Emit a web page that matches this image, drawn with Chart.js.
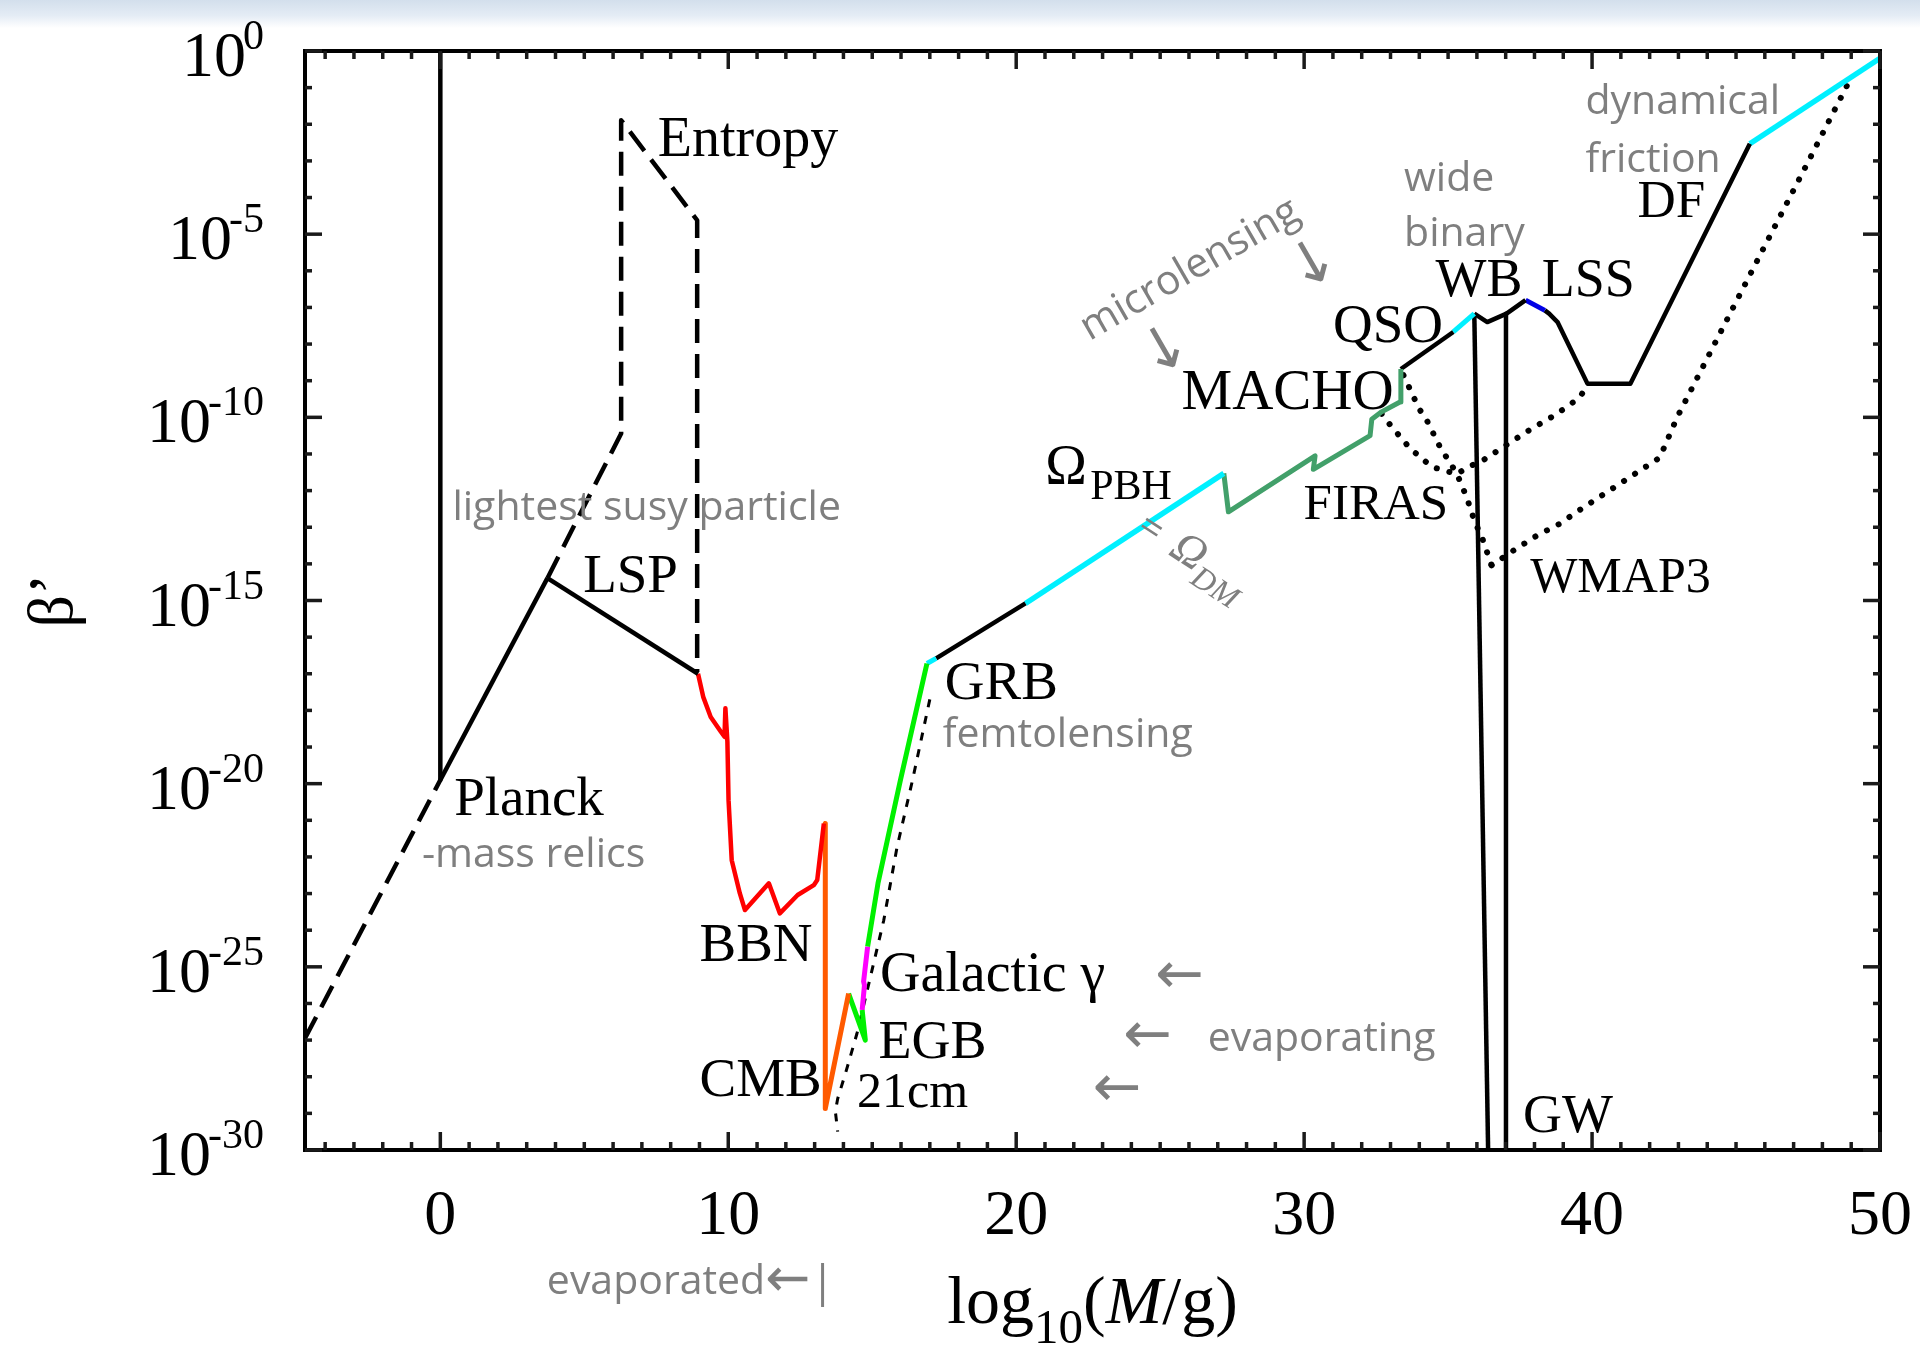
<!DOCTYPE html>
<html><head><meta charset="utf-8">
<script src="https://cdn.jsdelivr.net/npm/chart.js@4.4.1/dist/chart.umd.min.js"></script>
<style>
html,body{margin:0;padding:0;background:#fff;width:1920px;height:1355px;overflow:hidden;}
#band{position:absolute;left:0;top:0;width:1920px;height:28px;background:linear-gradient(#d3dfec,#e4ecf5 55%,#fff);}
#wrap{position:absolute;left:0;top:0;width:1920px;height:1355px;}
</style></head><body>
<div id="band"></div>
<div id="wrap"><canvas id="c" width="1920" height="1355"></canvas></div>
<script>
// ---------- axes ----------
const X_MIN = -4.7, X_MAX = 50, Y_MIN = -30, Y_MAX = 0;   // y = log10(beta')
const xTickValues = [0, 10, 20, 30, 40, 50];
const xTickLabels = ['0', '10', '20', '30', '40', '50'];
const yTickValues = [0, -5, -10, -15, -20, -25, -30];
const yTickExponents = ['0', '-5', '-10', '-15', '-20', '-25', '-30'];

// ---------- curves (x = log10(M/g), y = log10 beta') ----------
const planckVertX = [0, 0];
const planckVertY = [0, -19.9];
const planckDashX = [-4.7, 0];
const planckDashY = [-26.95, -19.9];
const planckLspX = [0, 3.72];
const planckLspY = [-19.9, -14.39];
const lspX = [3.72, 8.95];
const lspY = [-14.39, -17.0];
const entropyX = [3.72, 6.28, 6.28, 8.92, 8.92];
const entropyY = [-14.39, -10.44, -1.89, -4.62, -16.95];
const bbnX = [8.95, 9.13, 9.39, 9.75, 9.87, 9.9, 9.97, 10.01, 10.12, 10.40, 10.58, 11.41, 11.79, 12.41, 12.97, 13.09, 13.32];
const bbnY = [-17.0, -17.63, -18.18, -18.59, -18.72, -17.94, -18.86, -20.45, -22.09, -22.99, -23.45, -22.72, -23.54, -23.04, -22.77, -22.63, -21.09];
const cmbX = [13.32, 13.37, 13.37, 14.18];
const cmbY = [-21.09, -21.09, -28.87, -25.73];
const egbX = [14.18, 14.76, 14.65];
const egbY = [-25.73, -27.0, -26.18];
const galX = [14.65, 14.73, 14.70, 14.84];
const galY = [-26.18, -25.5, -25.4, -24.45];
const femtoX = [14.84, 15.2, 15.98, 16.9];
const femtoY = [-24.45, -22.72, -19.9, -16.72];
const grbCyanX = [16.9, 17.22];
const grbCyanY = [-16.72, -16.58];
const grbX = [17.22, 20.32];
const grbY = [-16.58, -15.08];
const omegaX = [20.32, 27.21];
const omegaY = [-15.08, -11.53];
const firasX = [27.21, 27.37, 30.38, 30.32, 32.29, 32.35, 32.69, 33.33, 33.36];
const firasY = [-11.53, -12.58, -11.05, -11.42, -10.5, -10.05, -9.85, -9.58, -8.68];
const qsoX = [33.36, 35.18];
const qsoY = [-8.68, -7.67];
const wbCyanX = [35.18, 35.91];
const wbCyanY = [-7.67, -7.17];
const gwLeftX = [35.91, 36.39];
const gwLeftY = [-7.17, -30];
const wbX = [35.91, 36.36, 37.03, 37.69];
const wbY = [-7.17, -7.4, -7.17, -6.8];
const gwRightX = [37.01, 37.01];
const gwRightY = [-7.17, -30];
const lssBlueX = [37.69, 38.36];
const lssBlueY = [-6.8, -7.08];
const lssX = [38.36, 38.51, 38.8, 39.84, 41.33, 45.48];
const lssY = [-7.08, -7.17, -7.4, -9.08, -9.08, -2.53];
const dfCyanX = [45.48, 50];
const dfCyanY = [-2.53, -0.2];
// dotted (WMAP3 / FIRAS) curves
const dotAX = [33.45, 33.99, 34.26, 34.72, 35.3, 35.64, 35.93, 36.17, 36.51];
const dotAY = [-8.85, -9.76, -10.08, -10.81, -11.53, -12.17, -12.86, -13.26, -14.04];
const dotBX = [32.69, 33.04, 33.39, 33.68, 34.09, 34.43, 34.95, 35.3, 35.71, 36.22, 37.09, 37.9, 38.71, 39.52, 39.88];
const dotBY = [-9.9, -10.26, -10.58, -10.85, -11.12, -11.35, -11.47, -11.55, -11.35, -11.17, -10.72, -10.31, -9.94, -9.49, -9.12];
const dotCX = [36.51, 37.28, 38.1, 38.89, 39.47, 42.35, 42.96, 44.44, 45.92, 47.41, 48.85];
const dotCY = [-14.04, -13.63, -13.22, -12.9, -12.58, -11.1, -9.99, -7.71, -5.44, -3.17, -0.95];
const femtoDotX = [17.0, 16.4, 15.86, 15.4, 14.9, 14.47, 14.07, 13.8, 13.72, 13.8];
const femtoDotY = [-17.7, -19.9, -21.74, -23.73, -25.4, -26.82, -27.91, -28.6, -28.95, -29.5];

// ---------- text labels ----------
const serifLabels = [
  ['Entropy', 7.55, -2.87, 56], ['LSP', 4.96, -14.77, 55], ['Planck', 0.48, -20.86, 55],
  ['BBN', 9.0, -24.85, 55], ['CMB', 9.0, -28.53, 55], ['Galactic \u03b3', 15.27, -25.66, 56],
  ['EGB', 15.22, -27.5, 54], ['21cm', 14.47, -28.82, 50], ['GRB', 17.52, -17.69, 55],
  ['FIRAS', 29.98, -12.77, 51], ['MACHO', 25.74, -9.78, 57], ['QSO', 31.0, -7.93, 55],
  ['WB', 34.56, -6.68, 54], ['LSS', 38.25, -6.68, 54], ['DF', 41.58, -4.53, 53],
  ['WMAP3', 37.85, -14.76, 50], ['GW', 37.6, -29.51, 54]
];
const greyLabels = [
  ['lightest susy particle', 0.42, -12.8], ['-mass relics', -0.64, -22.27],
  ['femtolensing', 17.45, -19.0], ['wide', 33.47, -3.82], ['binary', 33.47, -5.33],
  ['dynamical', 39.77, -1.71], ['friction', 39.77, -3.3], ['evaporating', 26.65, -27.29]
];
const leftArrows = [[25.67, -25.29], [24.56, -26.93], [23.5, -28.4]];
const downArrows = [[25.2, -8.24], [30.34, -5.9]];

// ---------- styles ----------
const C_BLACK = '#000000', C_RED = '#ff0000', C_ORANGE = '#ff5a00', C_GREEN = '#00f000',
      C_MAGENTA = '#ff00ff', C_CYAN = '#00f0ff', C_SEA = '#42a06a', C_BLUE = '#0000e6';
const GREY = '#7f7f7f';
const SERIF = '"Liberation Serif", "Times New Roman", serif';
const SANS = '"Open Sans", "DejaVu Sans", sans-serif';
const ARROWF = '"DejaVu Sans", sans-serif';

function series(xs, ys, color, extra) {
  return Object.assign({
    data: xs.map((v, i) => ({x: v, y: ys[i]})),
    showLine: true, pointRadius: 0, pointHoverRadius: 0, borderColor: color,
    backgroundColor: color, borderWidth: 4.5, fill: false, tension: 0,
    borderJoinStyle: 'round', borderCapStyle: 'butt'
  }, extra || {});
}
const DASH = {borderDash: [24, 11]};
const DOT = {borderDash: [0.1, 13], borderCapStyle: 'round', borderWidth: 6};

const datasets = [
  series(planckVertX, planckVertY, C_BLACK),
  series(planckDashX, planckDashY, C_BLACK, DASH),
  series(planckLspX, planckLspY, C_BLACK),
  series(lspX, lspY, C_BLACK),
  series(entropyX, entropyY, C_BLACK, DASH),
  series(bbnX, bbnY, C_RED, {borderWidth: 4.5}),
  series(cmbX, cmbY, C_ORANGE, {borderWidth: 5}),
  series(egbX, egbY, C_GREEN, {borderWidth: 5}),
  series(galX, galY, C_MAGENTA, {borderWidth: 5}),
  series(femtoX, femtoY, C_GREEN, {borderWidth: 5}),
  series(grbCyanX, grbCyanY, C_CYAN, {borderWidth: 5}),
  series(grbX, grbY, C_BLACK),
  series(omegaX, omegaY, C_CYAN, {borderWidth: 5.5}),
  series(firasX, firasY, C_SEA, {borderWidth: 5}),
  series(qsoX, qsoY, C_BLACK),
  series(wbCyanX, wbCyanY, C_CYAN, {borderWidth: 5}),
  series(gwLeftX, gwLeftY, C_BLACK),
  series(wbX, wbY, C_BLACK),
  series(gwRightX, gwRightY, C_BLACK),
  series(lssBlueX, lssBlueY, C_BLUE, {borderWidth: 5}),
  series(lssX, lssY, C_BLACK),
  series(dfCyanX, dfCyanY, C_CYAN, {borderWidth: 5.5}),
  series(dotAX, dotAY, C_BLACK, DOT),
  series(dotBX, dotBY, C_BLACK, DOT),
  series(dotCX, dotCY, C_BLACK, DOT),
  series(femtoDotX, femtoDotY, C_BLACK, {borderDash: [8, 9], borderWidth: 3})
];

const deco = {
  id: 'deco',
  afterDraw(chart) {
    const ctx = chart.ctx, a = chart.chartArea, sx = chart.scales.x, sy = chart.scales.y;
    const px = v => sx.getPixelForValue(v), py = v => sy.getPixelForValue(v);
    ctx.save();
    // frame
    ctx.strokeStyle = '#000'; ctx.lineWidth = 4;
    ctx.strokeRect(a.left, a.top, a.right - a.left, a.bottom - a.top);
    // ticks (inward, all four sides)
    ctx.lineWidth = 3.5; ctx.strokeStyle = '#1a1a1a';
    const seg = (x1, y1, x2, y2) => { ctx.beginPath(); ctx.moveTo(x1, y1); ctx.lineTo(x2, y2); ctx.stroke(); };
    for (let v = Math.ceil(sx.min); v <= sx.max; v++) {
      const p = px(v), L = (v % 10 === 0) ? 18 : 8;
      seg(p, a.bottom, p, a.bottom - L); seg(p, a.top, p, a.top + L);
    }
    for (let v = sy.min; v <= sy.max; v++) {
      const p = py(v), L = (v % 5 === 0) ? 17 : 7;
      seg(a.left, p, a.left + L, p); seg(a.right, p, a.right - L, p);
    }
    ctx.fillStyle = '#000';
    // x tick labels
    ctx.font = '64px ' + SERIF; ctx.textAlign = 'center'; ctx.textBaseline = 'alphabetic';
    xTickValues.forEach((v, i) => ctx.fillText(xTickLabels[i], px(v), a.bottom + 84));
    // y tick labels 10^n
    const right = a.left - 41;
    yTickValues.forEach((v, i) => {
      const p = py(v);
      ctx.font = '42px ' + SERIF; ctx.textAlign = 'left';
      const we = ctx.measureText(yTickExponents[i]).width;
      ctx.fillText(yTickExponents[i], right - we, p - 2);
      ctx.font = '64px ' + SERIF; ctx.textAlign = 'right';
      ctx.fillText('10', right - we + 3, p + 25);
    });
    // x axis title: log10(M/g)
    {
      const parts = [['log', '68px ' + SERIF, 0], ['10', '49px ' + SERIF, 20], ['(', '68px ' + SERIF, 0],
                     ['M', 'italic 68px ' + SERIF, 0], ['/g)', '68px ' + SERIF, 0]];
      let tot = 0;
      parts.forEach(pp => { ctx.font = pp[1]; tot += ctx.measureText(pp[0]).width; });
      let xx = (a.left + a.right) / 2 - tot / 2;
      const base = a.bottom + 173;
      ctx.textAlign = 'left';
      parts.forEach(pp => { ctx.font = pp[1]; ctx.fillText(pp[0], xx, base + pp[2]); xx += ctx.measureText(pp[0]).width; });
    }
    // y axis title
    ctx.save();
    ctx.translate(55, (a.top + a.bottom) / 2); ctx.rotate(-Math.PI / 2);
    ctx.font = '64px ' + SERIF; ctx.textAlign = 'center'; ctx.textBaseline = 'middle';
    ctx.fillText('\u03b2\u2019', 0, 0);
    ctx.restore();
    // serif labels
    ctx.textAlign = 'left'; ctx.textBaseline = 'alphabetic';
    serifLabels.forEach(l => { ctx.font = l[3] + 'px ' + SERIF; ctx.fillText(l[0], px(l[1]), py(l[2])); });
    // Omega_PBH
    ctx.font = '56px ' + SERIF; ctx.fillText('\u03a9', px(21.01), py(-11.81));
    ctx.font = '42px ' + SERIF; ctx.fillText('PBH', px(22.57), py(-12.24));
    // grey annotations
    ctx.fillStyle = GREY;
    ctx.font = '41px ' + SANS;
    greyLabels.forEach(l => ctx.fillText(l[0], px(l[1]), py(l[2])));
    // evaporated<-|
    {
      let xx = px(3.7); const yy = py(-33.93);
      ctx.font = '41px ' + SANS; ctx.fillText('evaporated', xx, yy);
      xx += ctx.measureText('evaporated').width;
      ctx.font = '54px ' + ARROWF; ctx.fillText('\u2190', xx, yy + 2);
      xx += ctx.measureText('\u2190').width;
      ctx.font = '44px ' + SANS; ctx.fillText('|', xx, yy + 2);
    }
    ctx.textAlign = 'center'; ctx.textBaseline = 'middle';
    ctx.font = '58px ' + ARROWF;
    leftArrows.forEach(l => ctx.fillText('\u2190', px(l[0]), py(l[1])));
    ctx.font = '60px ' + ARROWF;
    downArrows.forEach(l => {
      ctx.save(); ctx.translate(px(l[0]), py(l[1])); ctx.rotate(-30 * Math.PI / 180);
      ctx.fillText('\u2193', 0, 0); ctx.restore();
    });
    // microlensing (rotated)
    ctx.save(); ctx.translate(px(22.55), py(-7.92)); ctx.rotate(-30 * Math.PI / 180);
    ctx.textAlign = 'left'; ctx.textBaseline = 'alphabetic'; ctx.font = '41px ' + SANS;
    ctx.fillText('microlensing', 0, 0); ctx.restore();
    // "= Omega_DM" (rotated)
    ctx.save(); ctx.translate(px(24.11), py(-13.15)); ctx.rotate(33 * Math.PI / 180);
    ctx.textAlign = 'left'; ctx.textBaseline = 'alphabetic';
    ctx.font = '40px ' + SANS; ctx.fillText('=', 0, 0);
    let off = ctx.measureText('= ').width + 6;
    ctx.font = 'italic 46px ' + SERIF; ctx.fillText('\u03a9', off, 0);
    off += ctx.measureText('\u03a9').width;
    ctx.font = 'italic 32px ' + SERIF; ctx.fillText('DM', off, 12);
    ctx.restore();
    ctx.restore();
  }
};

new Chart(document.getElementById('c'), {
  type: 'scatter',
  data: {datasets: datasets},
  options: {
    responsive: false, animation: false, devicePixelRatio: 1,
    layout: {padding: {left: 305, right: 40, top: 51, bottom: 205}},
    plugins: {legend: {display: false}, tooltip: {enabled: false}},
    events: [],
    scales: {
      x: {type: 'linear', min: X_MIN, max: X_MAX, display: false},
      y: {type: 'linear', min: Y_MIN, max: Y_MAX, display: false}
    }
  },
  plugins: [deco]
});
</script>
</body></html>
